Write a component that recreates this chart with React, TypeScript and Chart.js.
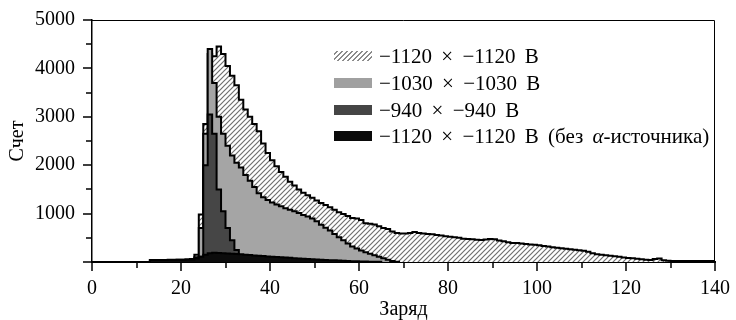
import React, { useEffect, useRef } from 'react';
import { Chart, registerables } from 'chart.js';

Chart.register(...registerables);

const FONT = "'Liberation Serif', 'Times New Roman', serif";

const seriesLabels = [
  '−1120 × −1120 В',
  '−1030 × −1030 В',
  '−940 × −940 В',
  '−1120 × −1120 В (без α-источника)',
];

// Histogram bins of width 1 (charge units); start = left edge of first bin
const hatchedStart = 13;
const hatchedCounts = [
  30, 35, 35, 40, 40, 40, 45, 45, 50, 60, // 13-22
  150, 980, 2850, 4300, 4250, 4450, 4300, 4050, 3850, 3650, // 23-32
  3350, 3150, 3000, 2850, 2700, 2450, 2250, 2100, 1980, 1860, // 33-42
  1760, 1660, 1580, 1500, 1430, 1380, 1330, 1270, 1220, 1180, // 43-52
  1130, 1080, 1030, 990, 950, 910, 900, 870, 800, 790, // 53-62
  775, 740, 700, 680, 630, 600, 590, 590, 600, 620, // 63-72
  600, 590, 580, 575, 560, 545, 530, 520, 510, 500, // 73-82
  480, 475, 470, 460, 455, 465, 475, 470, 445, 430, // 83-92
  410, 395, 390, 380, 370, 360, 355, 345, 330, 320, // 93-102
  305, 295, 285, 275, 265, 255, 245, 235, 210, 180, // 103-112
  160, 150, 140, 130, 120, 110, 95, 85, 75, 65, // 113-122
  55, 45, 40, 60, 70, 35, 25, 20, 20, 20, // 123-132
  20, 20, 20, 20, 20, 20, 20, // 133-139
];

const greyStart = 22;
const greyCounts = [
  40, 100, 700, 2650, 4400, 3700, 3000, 2650, 2400, 2200, // 22-31
  2050, 1950, 1800, 1680, 1550, 1420, 1340, 1280, 1230, 1190, // 32-41
  1150, 1110, 1080, 1050, 1010, 970, 940, 900, 840, 770, // 42-51
  710, 650, 580, 510, 450, 380, 320, 280, 240, 200, // 52-61
  170, 140, 110, 75, 45, 20, 5, // 62-68
];

const darkStart = 21;
const darkCounts = [
  20, 40, 60, 110, 2000, 3050, 2650, 1500, 1050, 700, // 21-30
  450, 250, 120, 60, 30, // 31-35
];

const blackStart = 13;
const blackCounts = [
  40, 40, 42, 42, 45, 45, 45, 48, 50, 50, // 13-22
  70, 110, 150, 180, 190, 185, 180, 175, 170, 165, // 23-32
  158, 150, 143, 136, 129, 122, 116, 110, 104, 98, // 33-42
  92, 86, 80, 74, 68, 62, 56, 50, 46, 42, // 43-52
  38, 34, 30, 26, 22, 18, 14, 10, 8, 6, // 53-62
  4, 3, // 63-64
];

const fillColors = ['hatch', '#a5a5a5', '#464646', '#0c0c0c'];

function toSteps(start: number, counts: number[]) {
  const pts = [{ x: start, y: 0 }];
  counts.forEach((c, i) => pts.push({ x: start + i, y: c }));
  pts.push({ x: start + counts.length, y: 0 });
  return pts;
}

function makeHatch(ctx: CanvasRenderingContext2D) {
  const s = 5;
  const c = document.createElement('canvas');
  c.width = s;
  c.height = s;
  const g = c.getContext('2d')!;
  g.fillStyle = '#ffffff';
  g.fillRect(0, 0, s, s);
  g.strokeStyle = '#707070';
  g.lineWidth = 1.2;
  g.beginPath();
  g.moveTo(0, s);
  g.lineTo(s, 0);
  g.moveTo(-1, 1);
  g.lineTo(1, -1);
  g.moveTo(s - 1, s + 1);
  g.lineTo(s + 1, s - 1);
  g.stroke();
  return ctx.createPattern(c, 'repeat');
}

const framePlugin = {
  id: 'frameTicks',
  afterDraw(chart: any) {
    const { ctx, chartArea: a, scales } = chart;
    ctx.save();
    ctx.strokeStyle = '#000';
    ctx.lineWidth = 1;
    ctx.beginPath();
    ctx.moveTo(a.left, a.top + 0.5);
    ctx.lineTo(a.right - 0.5, a.top + 0.5);
    ctx.lineTo(a.right - 0.5, a.bottom);
    ctx.stroke();
    ctx.lineWidth = 1.5;
    ctx.beginPath();
    scales.x.ticks.forEach((t: any) => {
      const px = Math.round(scales.x.getPixelForValue(t.value));
      const len = t.value % 20 === 0 ? 9 : 6;
      ctx.moveTo(px, a.bottom);
      ctx.lineTo(px, a.bottom + len);
    });
    scales.y.ticks.forEach((t: any) => {
      const py = Math.round(scales.y.getPixelForValue(t.value));
      const len = t.value % 1000 === 0 ? 9 : 6;
      ctx.moveTo(a.left, py);
      ctx.lineTo(a.left - len, py);
    });
    ctx.stroke();
    ctx.restore();
  },
};

const legendRows = [56, 83, 109.5, 136];

function LegendText({ text }: { text: string }) {
  const parts = text.split('α');
  if (parts.length === 1) return <>{text}</>;
  return (
    <>
      {parts[0]}
      <i>α</i>
      {parts[1]}
    </>
  );
}

export default function App() {
  const canvasRef = useRef<HTMLCanvasElement | null>(null);

  useEffect(() => {
    const canvas = canvasRef.current!;
    const ctx = canvas.getContext('2d')!;
    const hatch = makeHatch(ctx);
    const series = [
      { start: hatchedStart, counts: hatchedCounts },
      { start: greyStart, counts: greyCounts },
      { start: darkStart, counts: darkCounts },
      { start: blackStart, counts: blackCounts },
    ];
    const datasets = series.map((s, i) => ({
      label: seriesLabels[i],
      data: toSteps(s.start, s.counts),
      stepped: true as const,
      fill: 'origin',
      backgroundColor: fillColors[i] === 'hatch' ? hatch : fillColors[i],
      borderColor: '#000',
      borderWidth: 2,
      pointRadius: 0,
      order: 4 - i,
    }));

    const chart = new Chart(ctx, {
      type: 'line',
      data: { datasets: datasets as any },
      options: {
        animation: false,
        responsive: true,
        maintainAspectRatio: false,
        layout: { padding: { top: 13, right: 17, left: 0, bottom: 0 } },
        plugins: { legend: { display: false }, tooltip: { enabled: false } },
        scales: {
          x: {
            type: 'linear',
            min: 0,
            max: 140,
            ticks: {
              stepSize: 10,
              autoSkip: false,
              maxRotation: 0,
              color: '#000',
              padding: 6,
              font: { family: FONT, size: 20 },
              callback: (v: any) => (Number(v) % 20 === 0 ? String(v) : ''),
            },
            grid: { display: true, drawOnChartArea: false, drawTicks: true, tickLength: 9, color: 'rgba(0,0,0,0)' },
            border: { display: true, color: '#000', width: 2 },
            title: { display: true, text: 'Заряд', color: '#000', font: { family: FONT, size: 20 }, padding: { top: 0, bottom: -2 } },
            afterFit: (s: any) => { s.height = 58; },
          },
          y: {
            type: 'linear',
            min: 0,
            max: 5000,
            ticks: {
              stepSize: 500,
              autoSkip: false,
              color: '#000',
              padding: 8,
              font: { family: FONT, size: 20 },
              callback: (v: any) => (Number(v) !== 0 && Number(v) % 1000 === 0 ? String(v) : ''),
            },
            grid: { display: true, drawOnChartArea: false, drawTicks: true, tickLength: 9, color: 'rgba(0,0,0,0)' },
            border: { display: true, color: '#000', width: 1.5 },
            title: { display: true, text: 'Счет', color: '#000', font: { family: FONT, size: 20 }, padding: { top: 6, bottom: 0 } },
            afterFit: (s: any) => { s.width = 92; },
          },
        },
      },
      plugins: [framePlugin],
    });
    return () => chart.destroy();
  }, []);

  const swatchStyles: React.CSSProperties[] = [
    { background: 'repeating-linear-gradient(135deg, #ffffff 0px, #ffffff 2px, #8a8a8a 2px, #8a8a8a 3.5px)' },
    { background: '#a0a0a0' },
    { background: '#454545' },
    { background: '#0a0a0a' },
  ];

  return (
    <div style={{ position: 'fixed', left: 0, top: 0, width: 736, height: 320, background: '#fff' }}>
      <canvas ref={canvasRef} />
      {seriesLabels.map((lab, i) => (
        <div key={i}>
          <div
            style={{
              position: 'absolute',
              left: 334,
              top: legendRows[i] - 5,
              width: 38,
              height: 10,
              ...swatchStyles[i],
            }}
          />
          <div
            style={{
              position: 'absolute',
              left: 379,
              top: legendRows[i] - 12,
              height: 24,
              lineHeight: '24px',
              fontFamily: FONT,
              fontSize: 21,
              color: '#000',
              whiteSpace: 'nowrap',
              wordSpacing: 4,
            }}
          >
            <LegendText text={lab} />
          </div>
        </div>
      ))}
    </div>
  );
}
